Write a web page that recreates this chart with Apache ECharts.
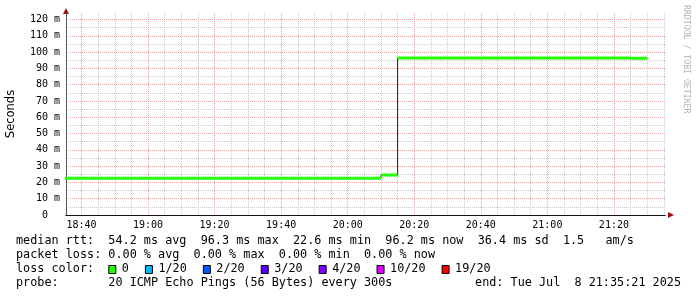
<!DOCTYPE html>
<html><head><meta charset="utf-8">
<script src="https://cdn.jsdelivr.net/npm/echarts@6/dist/echarts.min.js"></script>
<style>html,body{margin:0;padding:0;background:#fff}#c{width:697px;height:297px}</style>
</head><body><div id="c"></div>
<script>
// ---- data ----
const startTime = "18:35:21";
const endTime = "21:35:21";
const slotEnds = ["18:40","18:45","18:50","18:55","19:00","19:05","19:10","19:15","19:20","19:25",
  "19:30","19:35","19:40","19:45","19:50","19:55","20:00","20:05","20:10","20:15",
  "20:20","20:25","20:30","20:35","20:40","20:45","20:50","20:55","21:00","21:05",
  "21:10","21:15","21:20","21:25","21:30"];
const medianMs = [22.6,22.6,22.6,22.6,22.6,22.6,22.6,22.6,22.6,22.6,
  22.6,22.6,22.6,22.6,22.6,22.6,22.6,22.6,22.6,24.5,
  96.3,96.3,96.3,96.3,96.3,96.3,96.3,96.3,96.3,96.3,
  96.3,96.3,96.3,96.3,96.2];
const slotMinutes = 5;
const xTickLabels = ["18:40","19:00","19:20","19:40","20:00","20:20","20:40","21:00","21:20"];
const yTickValues = [0,10,20,30,40,50,60,70,80,90,100,110,120];
const yMinorValues = [5,15,25,35,45,55,65,75,85,95,105,115];
const yMax = 124;
const rttStatsLine = "median rtt:  54.2 ms avg  96.3 ms max  22.6 ms min  96.2 ms now  36.4 ms sd  1.5   am/s";
const lossStatsLine = "packet loss: 0.00 % avg  0.00 % max  0.00 % min  0.00 % now";
const lossColorTitle = "loss color:";
const lossLegendLabels = ["0","1/20","2/20","3/20","4/20","10/20","19/20"];
const lossLegendColors = ["#26ff00","#00b8ff","#0059ff","#5e00ff","#7e00ff","#dd00ff","#ff0000"];
const probeLine = "probe:       20 ICMP Echo Pings (56 Bytes) every 300s";
const endLine = "end: Tue Jul  8 21:35:21 2025";
const watermark = "RRDTOOL / TOBI OETIKER";

// ---- helpers ----
function toMin(s){const p=s.split(':').map(Number);return p[0]*60+p[1]+(p[2]||0)/60;}
function fmt(m){const h=Math.floor(m/60+1e-9), mm=Math.round(m-h*60);return h+':'+String(mm).padStart(2,'0');}
const xMin = toMin(startTime), xMax = toMin(endTime);
const xMajor = xTickLabels.map(toMin);
const xMinor = [];
for (let m = Math.ceil(xMin/5)*5; m <= xMax; m += 5) if (!xMajor.includes(m)) xMinor.push(m);

const blackLine = [], greenLine = [];
slotEnds.forEach((t,i)=>{
  const e = toMin(t), s = e - slotMinutes, v = medianMs[i];
  blackLine.push([s,v],[e,v]);
  greenLine.push([s,v],[e,v],[e,null]);
});

const mono = "DejaVu Sans Mono";
const gridMajor = 'rgb(236,165,165)';
const gridMinor = 'rgb(200,200,200)';
const arrowColor = '#a01010';

// ---- legend/text graphics ----
const FS = 11.8, CW = FS*0.602, X0 = 16;
const rowY = [241,255,269,283];
const graphic = [];
function txt(x,y,s,align){graphic.push({type:'text',x:x,y:y,silent:true,style:{text:s,font:FS+'px "'+mono+'"',fill:'#000',textAlign:align||'left',textVerticalAlign:'middle'}});}
txt(X0,rowY[0],rttStatsLine);
txt(X0,rowY[1],lossStatsLine);
txt(X0,rowY[2],lossColorTitle);
let sx = 108.3;
lossLegendLabels.forEach((lab,i)=>{
  graphic.push({type:'rect',silent:true,shape:{x:sx+0.5,y:rowY[2]-3.5,width:7,height:8},style:{fill:lossLegendColors[i],stroke:'#000',lineWidth:1}});
  txt(sx+13.5,rowY[2],lab);
  sx += 13.5 + lab.length*CW + 16;
});
txt(X0,rowY[3],probeLine);
txt(681,rowY[3],endLine,'right');
graphic.push({type:'text',x:686,y:5,rotation:-Math.PI/2,silent:true,style:{text:watermark,font:'8.2px "'+mono+'"',fill:'#b4b4b4',textAlign:'left',textVerticalAlign:'middle'}});

const chart = echarts.init(document.getElementById('c'), null, {renderer:'canvas'});
chart.setOption({
  animation:false,
  backgroundColor:'#fff',
  grid:{left:66,right:32,top:13,bottom:82,containLabel:false,outerBoundsMode:'none'},
  xAxis:[
    {type:'value',position:'bottom',min:xMin,max:xMax,z:3,
     axisLine:{show:true,onZero:false,lineStyle:{color:'#111',width:1}},
     axisTick:{show:false,customValues:xMajor},
     axisLabel:{customValues:xMajor,formatter:fmt,fontFamily:mono,fontSize:10,color:'#000',margin:5},
     splitLine:{show:true,lineStyle:{color:gridMajor,type:[1,1],width:1}}},
    {type:'value',position:'bottom',min:xMin,max:xMax,z:1,
     axisLine:{show:false},
     axisTick:{show:false,customValues:xMinor},
     axisLabel:{show:false,customValues:xMinor},
     splitLine:{show:true,lineStyle:{color:gridMinor,type:[1,1],width:1}}},
    {type:'value',position:'bottom',min:xMin,max:xMax,z:2,
     axisLine:{show:true,onZero:false,symbol:['none','triangle'],symbolSize:[6,6],symbolOffset:[0,6],lineStyle:{color:arrowColor,width:1}},
     axisTick:{show:false},axisLabel:{show:false},splitLine:{show:false}}
  ],
  yAxis:[
    {type:'value',position:'left',min:0,max:yMax,z:3,
     name:'Seconds',nameLocation:'middle',nameGap:49,nameRotate:90,
     nameTextStyle:{fontFamily:'DejaVu Sans',fontSize:11.5,color:'#000'},
     axisLine:{show:true,onZero:false,lineStyle:{color:'#555',width:1}},
     axisTick:{show:false,customValues:yTickValues},
     axisLabel:{customValues:yTickValues,formatter:v=>v===0?'0  ':v+' m',fontFamily:mono,fontSize:10,color:'#000',margin:6},
     splitLine:{show:true,lineStyle:{color:gridMajor,type:[1,1],width:1}}},
    {type:'value',position:'left',min:0,max:yMax,z:1,
     axisLine:{show:false},
     axisTick:{show:false,customValues:yMinorValues},
     axisLabel:{show:false,customValues:yMinorValues},
     splitLine:{show:true,lineStyle:{color:gridMinor,type:[1,1],width:1}}},
    {type:'value',position:'left',min:0,max:yMax,z:2,
     axisLine:{show:true,onZero:false,symbol:['none','triangle'],symbolSize:[6,6],symbolOffset:[0,2],lineStyle:{color:arrowColor,width:1}},
     axisTick:{show:false},axisLabel:{show:false},splitLine:{show:false}}
  ],
  series:[
    {type:'line',xAxisIndex:0,yAxisIndex:0,data:blackLine,showSymbol:false,symbol:'none',z:4,
     lineStyle:{color:'#202020',width:1},silent:true},
    {type:'line',xAxisIndex:0,yAxisIndex:0,data:greenLine,showSymbol:false,symbol:'none',z:5,connectNulls:false,
     lineStyle:{color:'#26ff00',width:3,cap:'butt'},silent:true}
  ],
  graphic:graphic
});
</script></body></html>
